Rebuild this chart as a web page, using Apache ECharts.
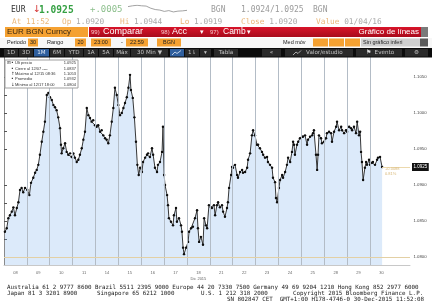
<!DOCTYPE html>
<html><head><meta charset="utf-8">
<script src="https://cdn.jsdelivr.net/npm/echarts@6/dist/echarts.min.js"></script>
<style>html,body{margin:0;padding:0;background:#fff;}#c{width:432px;height:306px;}</style>
</head><body><div id="c"></div>
<script>
// ---- data ----
const dayLabels = ['08','09','10','11','14','15','16','17','18','21','22','23','24','25','28','29','30'];
const monthLabel = 'Dic 2015';
const dayBounds = [1,2,3,4,5,6,7,8,9,10,11,12,13,14,15,16];
// position in trading days since 08 Dec session start
const dayPos = [0.04,0.12,0.19,0.26,0.34,0.41,0.48,0.56,0.63,0.70,0.77,0.84,0.92,1.02,1.11,1.18,1.28,1.36,1.43,1.50,
1.57,1.65,1.72,1.79,1.87,1.94,2.01,2.09,2.16,2.23,2.30,2.37,2.45,2.49,2.52,2.59,2.67,2.74,2.81,2.89,
2.96,3.03,3.10,3.18,3.25,3.32,3.40,3.47,3.54,3.62,3.69,3.76,3.83,3.90,3.98,4.05,4.12,4.20,4.27,4.34,
4.42,4.49,4.56,4.63,4.71,4.78,4.85,4.93,5.00,5.07,5.15,5.22,5.29,5.37,5.44,5.51,5.55,5.63,5.70,5.77,
5.83,5.89,
5.95,6.03,6.08,6.17,6.25,6.30,6.38,6.47,6.52,6.60,
6.69,6.73,6.82,6.91,6.95,7.00,7.04,7.13,7.17,7.21,
7.30,7.39,7.43,7.52,7.56,7.65,7.74,7.78,7.83,7.87,
7.96,8.05,8.09,8.18,8.26,8.35,8.44,8.48,8.53,8.61,
8.70,8.75,8.83,8.88,8.96,9.05,9.09,9.18,9.23,9.31,
9.36,9.44,9.53,9.58,9.66,9.75,9.79,9.84,9.93,9.97,
10.01,10.10,10.19,10.23,10.32,10.41,10.45,10.54,10.63,10.67,
10.76,10.84,10.89,10.97,11.06,11.11,11.19,11.28,11.33,11.41,
11.50,11.54,11.63,11.72,11.76,11.85,11.89,11.94,12.02,12.07,
12.16,12.20,12.29,12.37,12.42,12.51,12.59,12.64,12.68,12.72,
12.81,12.86,12.94,13.03,13.07,13.16,13.25,13.29,13.38,13.47,
13.51,13.55,13.64,13.69,13.73,13.77,13.86,13.90,13.99,14.08,
14.12,14.21,14.30,14.34,14.43,14.52,14.56,14.65,14.74,14.78,
14.87,14.95,15.00,15.09,15.17,15.22,15.30,15.39,15.44,15.52,
15.57,15.61,15.65,15.70,15.78,15.83,15.87,15.96,16.00,16.09,
16.13,16.22,16.31,16.35,16.44,16.53];
const prices = [1.0835,1.0840,1.0854,1.0858,1.0863,1.0869,1.0858,1.0868,1.0876,1.0893,
1.0896,1.0890,1.0896,1.0893,1.0886,1.0903,1.0910,1.0917,1.0921,1.0928,
1.0942,1.0960,1.0974,1.0988,1.1025,1.1028,1.1022,1.1018,1.1011,1.1008,
1.1004,1.0994,1.0979,1.0956,1.0944,1.0951,1.0958,1.0946,1.0942,1.0944,
1.0939,1.0944,1.0938,1.0932,1.0935,1.0942,1.0951,1.0963,1.0974,1.1007,
1.0997,1.0993,1.0988,1.0990,1.0983,1.0981,1.0983,1.0974,1.0976,1.0969,
1.0965,1.0963,1.0958,1.0969,1.0988,1.1007,1.1035,1.1025,1.1011,1.0997,
1.1000,1.1007,1.1014,1.1022,1.1035,1.1053,1.1032,1.1021,1.0994,1.0960,
1.0928,1.0914,
1.0924,1.0918,1.0932,1.0938,1.0942,1.0944,1.0939,1.0951,1.0942,1.0924,
1.0918,1.0928,1.0932,1.0946,1.0981,1.0914,1.0900,1.0886,1.0872,1.0854,
1.0849,1.0844,1.0858,1.0868,1.0849,1.0854,1.0844,1.0835,1.0813,1.0804,
1.0813,1.0821,1.0835,1.0840,1.0842,1.0854,1.0865,1.0840,1.0821,1.0828,
1.0817,1.0854,1.0844,1.0840,1.0872,1.0869,1.0868,1.0872,1.0858,1.0872,
1.0876,1.0869,1.0872,1.0863,1.0856,1.0868,1.0876,1.0896,1.0914,1.0925,
1.0924,1.0928,1.0914,1.0910,1.0918,1.0921,1.0917,1.0918,1.0924,1.0935,
1.0944,1.0969,1.0976,1.0969,1.0956,1.0956,1.0951,1.0946,1.0942,1.0938,
1.0939,1.0932,1.0928,1.0924,1.0910,1.0904,1.0882,1.0876,1.0896,1.0907,
1.0914,1.0910,1.0918,1.0928,1.0938,1.0932,1.0946,1.0960,1.0956,1.0942,
1.0956,1.0960,1.0965,1.0967,1.0967,1.0969,1.0956,1.0963,1.0967,1.0969,
1.0972,1.0976,1.0942,1.0921,1.0942,1.0969,1.0965,1.0958,1.0960,1.0965,
1.0972,1.0974,1.0972,1.0960,1.0974,1.0981,1.0988,1.0976,1.0981,1.0976,
1.0972,1.0976,1.0974,1.0981,1.0979,1.0976,1.0981,1.0972,1.0988,1.0969,
1.0974,1.0946,1.0932,1.0907,1.0924,1.0932,1.0928,1.0935,1.0928,1.0931,
1.0932,1.0928,1.0935,1.0938,1.0939,1.0925];
const prevClose = 1.0837;
const lastPrice = 1.0925;
const yTickValues = [1.0800,1.0825,1.0850,1.0875,1.0900,1.0950,1.0975,1.1000,1.1025,1.1050];
const yLabelValues = [1.0800,1.0850,1.0900,1.0950,1.1000,1.1050];
const sparkPrices = [1.0939,1.0942,1.0944,1.0942,1.0941,1.0933,1.0928,1.0926,1.0921,1.0924,1.0919,1.0922,1.0923,1.0925];
const legendRows = [
  ['Últ precio','1.0925'],
  ['Cierre al 12/07 ----','1.0837'],
  ['Máximo al 12/15 08:36','1.1053'],
  ['Promedio','1.0932'],
  ['Mínimo al 12/17 18:00','1.0804']
];

// ---- drawing ----
const MONO = "'DejaVu Sans Mono', monospace";
const SANS = "'Liberation Sans', Arial, sans-serif";
const DJ = "'DejaVu Sans', sans-serif";
function T(x, y, text, fill, size, ff, opt) {
  opt = opt || {};
  return {type:'text', x:x, y:y, silent:true, z:100,
    style:{text:text, fill:fill, font:(opt.bold?'bold ':'') + size + 'px ' + (ff||MONO),
      textAlign:opt.align||'left', textVerticalAlign:'middle'}};
}
function R(x, y, w, h, fill, stroke) {
  return {type:'rect', silent:true, z:99, shape:{x:x, y:y, width:w, height:h},
    style:{fill:fill, stroke:stroke||null, lineWidth:stroke?1:0}};
}
const AMBER = '#f5a131';
const TAN = '#eab77a', GRY = '#a9a9a9';
const g = [];
// Row 1
g.push(T(11,10,'EUR','#333',8,MONO));
g.push(T(33,10,'↓','#d43030',9.5,DJ));
g.push(T(39,10,'1.0925','#35a043',9.6,MONO,{bold:true}));
g.push(T(90,10,'+.0005','#8cbf8c',9,MONO));
g.push(T(211,10,'BGN','#9a9a9a',8,MONO));
g.push(T(241,10,'1.0924/1.0925','#9a9a9a',8,MONO));
g.push(T(313,10,'BGN','#9a9a9a',8,MONO));
// Row 2
function pair(x, a, b, fa, fb) {
  return {type:'text', x:x, y:21.5, silent:true, z:100,
    style:{text:'{a|'+a+'} {b|'+b+'}', font:'7.8px '+MONO, textVerticalAlign:'middle',
      rich:{a:{fill:fa||TAN, font:'7.8px '+MONO}, b:{fill:fb||GRY, font:'7.8px '+MONO}}}};
}
g.push(pair(12,'At','11:52',TAN,TAN));
g.push(pair(62,'Op','1.0920'));
g.push(pair(120,'Hi','1.0944'));
g.push(pair(180,'Lo','1.0919'));
g.push(pair(241,'Close','1.0920'));
g.push(pair(316,'Value','01/04/16'));
// Row 3
g.push(R(5,27,83,10,AMBER));
g.push(T(7,32,'EUR BGN Curncy','#3b2a12',8,SANS));
g.push({type:'rect', silent:true, z:99, shape:{x:89,y:27,width:332,height:10},
  style:{fill:new echarts.graphic.LinearGradient(0,0,0,1,[{offset:0,color:'#d8142a'},{offset:1,color:'#a80b1c'}])}});
g.push(R(421,27,7,10,'#7a7a7a'));
g.push(T(91,32,'99)','#f3c7c7',6,SANS));
g.push(T(103,32,'Comparar','#fff',9,SANS));
g.push(T(161,32,'98)','#f3c7c7',6,SANS));
g.push(T(172,32,'Acc','#fff',9,SANS));
g.push(T(200,32,'▾','#fff',7,DJ));
g.push(T(210,32,'97)','#f3c7c7',6,SANS));
g.push(T(223,32,'Camb','#fff',8.5,SANS));
g.push(T(247,32,'▾','#fff',7,DJ));
g.push(T(419,32,'Gráfico de líneas','#fff',8,SANS,{align:'right'}));
// Row 4
g.push(R(0,38,432,10,'#f7f7f7'));
g.push(T(7,42.5,'Periodo','#222',5.5,SANS));
g.push(R(28,38.5,10,8,AMBER)); g.push(T(33,42.5,'30','#222',5.5,SANS,{align:'center'}));
g.push(T(47,42.5,'Rango','#222',5.5,SANS));
g.push(R(75,38.5,11,8,AMBER)); g.push(T(80.5,42.5,'20','#222',5.5,SANS,{align:'center'}));
g.push(R(91,38.5,20,8,AMBER)); g.push(T(101,42.5,'23:00','#222',5.5,SANS,{align:'center'}));
g.push(T(121,42.5,'-','#222',5.5,SANS));
g.push(R(126,38.5,22,8,AMBER)); g.push(T(137,42.5,'22:59','#222',5.5,SANS,{align:'center'}));
g.push(R(157,38.5,24,8,AMBER)); g.push(T(169,42.5,'BGN','#222',5.5,SANS,{align:'center'}));
g.push(T(283,42.5,'Med móv','#222',5.5,SANS));
g.push(R(313,38.5,15,8,AMBER)); g.push(R(329,38.5,15,8,AMBER)); g.push(R(345,38.5,15,8,AMBER));
g.push(R(361,38.5,59,8,'#cfcfcf')); g.push(T(363,42.5,'Sin gráfico inferi','#222',5.5,SANS));
g.push(R(420,38.5,8,8,'#5a5a5a'));
// Row 5
g.push(R(0,48,432,9.5,'#0b0b0b'));
const btns = [[4,14,'1D'],[19,14,'3D'],[34,15,'1M',1],[50,14,'6M'],[65,18,'YTD'],[84,14,'1A'],[99,14,'5A'],
  [114,16,'Máx'],[131,37,'30 Min ▼'],[170,14,'',1],[185,14,'1⇂'],[200,11,'▾'],[214,24,'Tabla'],
  [262,19,'«'],[285,68,'      Valor/estudio'],[356,46,'      Evento'],[405,23,'⚙']];
btns.forEach(b => {
  g.push(R(b[0],49,b[1],7.5,b[3]?'#2f5f9e':'#2a2a2a'));
  g.push(T(b[0]+b[1]/2,52.8,b[2],b[3]?'#dfe8f5':'#c4c4c4',5.6,DJ,{align:'center'}));
});
g.push({type:'polyline', silent:true, z:101, shape:{points:[[293,55],[296,52],[298,53.5],[301,50.5]]}, style:{stroke:'#ccc',lineWidth:0.8,fill:null}});
g.push({type:'polyline', silent:true, z:101, shape:{points:[[172,55],[175,52],[177,53.5],[181,50.5]]}, style:{stroke:'#dfe8f5',lineWidth:0.8,fill:null}});
g.push(T(366,52.8,'⚑','#ddd',6,DJ));
// legend box
g.push(R(5,60,73,28,'#fff','#a0a0a0'));
legendRows.forEach((r,i) => {
  const y = 63.2 + i*5.3;
  g.push(T(15,y,r[0],'#333',4,SANS));
  g.push(T(76,y,r[1],'#333',4,SANS,{align:'right'}));
});
g.push(T(7,63.2,'⊞','#444',4.5,DJ)); g.push(T(11,63.2,'•','#222',4.5,DJ));
g.push(T(11,68.5,'•','#222',4.5,DJ)); g.push(T(11,73.8,'↑','#222',4.5,DJ));
g.push(T(11,79.1,'•','#222',4.5,DJ)); g.push(T(11,84.4,'↓','#222',4.5,DJ));
// change annotation
g.push(T(385,168.5,'+0.0088','#d8b878',4,SANS));
g.push(T(385,173.5,'0.81%','#d8b878',4,SANS));
// footer
g.push(T(7,287,'Australia 61 2 9777 8600 Brazil 5511 2395 9000 Europe 44 20 7330 7500 Germany 49 69 9204 1210 Hong Kong 852 2977 6000','#1a1a1a',5.85,MONO));
g.push(T(7,293,'Japan 81 3 3201 8900','#1a1a1a',5.85,MONO));
g.push(T(97,293,'Singapore 65 6212 1000','#1a1a1a',5.85,MONO));
g.push(T(201,293,'U.S. 1 212 318 2000','#1a1a1a',5.85,MONO));
g.push(T(293,293,'Copyright 2015 Bloomberg Finance L.P.','#1a1a1a',5.85,MONO));
g.push(T(227,299,'SN 802847 CET  GMT+1:00 H178-4746-0 30-Dec-2015 11:52:08','#1a1a1a',5.85,MONO));

const mainData = dayPos.map((d,i) => [d, prices[i]]);
const xMax = 17.75;
const chart = echarts.init(document.getElementById('c'), null, {renderer:'canvas'});
chart.setOption({
  animation:false,
  backgroundColor:'#fff',
  grid:[
    {left:4, right:22, top:57, bottom:41, outerBoundsMode:'none', containLabel:false},
    {left:128, top:5, width:59, height:8, outerBoundsMode:'none', containLabel:false}
  ],
  xAxis:[
    {type:'value', gridIndex:0, min:0, max:xMax,
      axisLine:{show:true, lineStyle:{color:'#c8c8c8', width:1}},
      axisTick:{show:false}, splitLine:{show:false},
      axisLabel:{customValues:dayLabels.map((d,i)=>i+0.5), margin:5, color:'#666', fontSize:4,
        fontFamily:'Liberation Sans', lineHeight:6,
        formatter:v => { const i = Math.round(v-0.5); return dayLabels[i] + (dayLabels[i]==='18' ? '\n'+monthLabel : ''); }}},
    {type:'category', gridIndex:1, show:false, boundaryGap:false, data:sparkPrices.map((v,i)=>i)}
  ],
  yAxis:[
    {type:'value', gridIndex:0, position:'right', min:1.07889, max:1.10778,
      axisLine:{show:true, lineStyle:{color:'#8a8a8a', width:1}},
      axisTick:{show:true, inside:false, length:3, customValues:yTickValues, lineStyle:{color:'#555'}},
      splitLine:{show:false},
      axisLabel:{customValues:yLabelValues, margin:3.5, color:'#444', fontSize:4.3, fontFamily:'Liberation Sans',
        formatter:v => v.toFixed(4)}},
    {type:'value', gridIndex:1, show:false, scale:true}
  ],
  graphic:{elements:g},
  series:[
    {type:'line', xAxisIndex:0, yAxisIndex:0, z:1, silent:true,
      data:dayBounds.map(d => [d, 1.09]), symbol:'none', lineStyle:{opacity:0},
      markLine:{silent:true, symbol:'none', animation:false, label:{show:false},
        lineStyle:{color:'#b3bcc6', width:1, type:'solid'},
        data:dayBounds.map(d => ({xAxis:d}))}},
    {type:'line', xAxisIndex:0, yAxisIndex:0, z:3, silent:true,
      data:mainData, symbol:'circle', symbolSize:2.4, showSymbol:true,
      itemStyle:{color:'#0d0d0d'}, lineStyle:{color:'#222', width:0.9},
      areaStyle:{color:'rgba(120,175,235,0.37)', origin:'start'},
      markLine:{silent:true, symbol:'none', animation:false,
        data:[
          {yAxis:prevClose, lineStyle:{color:'#e3d0a4', width:1, type:'solid'}, label:{show:false}},
          [{coord:[dayPos[dayPos.length-1], lastPrice], lineStyle:{color:'#ecd9ad', width:1, type:'solid'},
            label:{show:true, position:'end', formatter:lastPrice.toFixed(4), backgroundColor:'#111', color:'#fff',
              fontSize:4.5, fontFamily:'Liberation Sans', padding:[1.5,1.5], distance:2}},
           {coord:[xMax, lastPrice]}]
        ]}},
    {type:'line', xAxisIndex:1, yAxisIndex:1, data:sparkPrices, symbol:'none', silent:true,
      lineStyle:{color:'#8a8a8a', width:0.8}}
  ]
});
</script></body></html>
